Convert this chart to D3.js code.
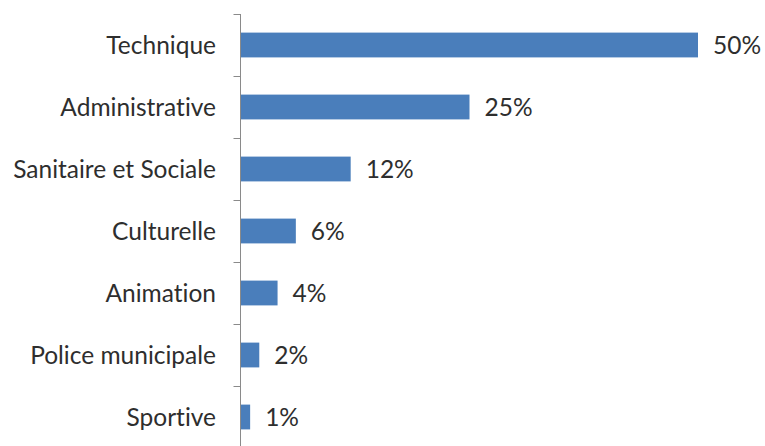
<!DOCTYPE html>
<html>
<head>
<meta charset="utf-8">
<script src="https://cdn.jsdelivr.net/npm/d3@7"></script>
<style>
  html, body { margin: 0; padding: 0; background: #fff; }
  svg { display: block; }
  text { font-family: Lato, "Open Sans", sans-serif; fill: #2e2e2e; font-variant-ligatures: none; }
</style>
</head>
<body>
<script>
// Répartition des agents par filière (%)
const categories = ["Technique", "Administrative", "Sanitaire et Sociale", "Culturelle", "Animation", "Police municipale", "Sportive"];
const values = [50, 25, 12, 6, 4, 2, 1];
const valueLabels = ["50%", "25%", "12%", "6%", "4%", "2%", "1%"];

const width = 765, height = 446;
const svg = d3.select("body").append("svg")
  .attr("width", width).attr("height", height);

const x = d3.scaleLinear().domain([0, 50]).range([241, 698]);
const band = d3.scaleBand().domain(categories).range([14, 448]);
const barH = band.bandwidth() / 2.5;

// Bars
svg.selectAll("rect.bar").data(categories).enter().append("rect")
  .attr("class", "bar")
  .attr("x", x(0))
  .attr("y", (d) => band(d) + (band.bandwidth() - barH) / 2)
  .attr("width", (d, i) => x(values[i]) - x(0))
  .attr("height", barH)
  .attr("fill", "#4a7ebb");

// Category axis with ticks between categories
const axisX = 240.5;
svg.append("line")
  .attr("x1", axisX).attr("x2", axisX)
  .attr("y1", 14).attr("y2", height)
  .attr("stroke", "#8a8a8a").attr("stroke-width", 1);

const edges = categories.map((c) => band(c)).concat([band.range()[1]]);
svg.selectAll("line.tick").data(edges).enter().append("line")
  .attr("class", "tick")
  .attr("x1", axisX - 7).attr("x2", axisX)
  .attr("y1", (d) => Math.round(d) + 0.5).attr("y2", (d) => Math.round(d) + 0.5)
  .attr("stroke", "#8a8a8a").attr("stroke-width", 1);

// Category labels
svg.selectAll("text.cat").data(categories).enter().append("text")
  .attr("class", "cat")
  .attr("x", 216)
  .attr("y", (d) => band(d) + band.bandwidth() / 2)
  .attr("dy", "0.36em")
  .attr("text-anchor", "end")
  .style("font-size", "24.5px")
  .text((d) => d);

// Value labels
svg.selectAll("text.val").data(categories).enter().append("text")
  .attr("class", "val")
  .attr("x", (d, i) => x(values[i]) + 15)
  .attr("y", (d) => band(d) + band.bandwidth() / 2)
  .attr("dy", "0.36em")
  .style("font-size", "24.5px")
  .text((d, i) => valueLabels[i]);
</script>
</body>
</html>
